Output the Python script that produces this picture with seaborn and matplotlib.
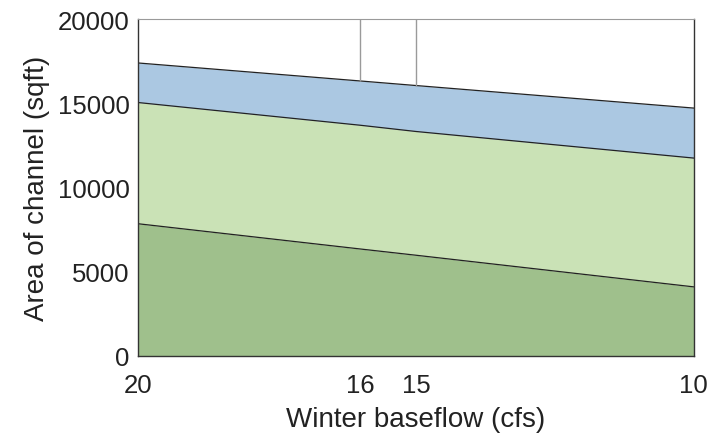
import numpy as np
import pandas as pd
import seaborn as sns
import matplotlib.pyplot as plt

# winter baseflow (cfs) and stacked boundaries of channel area (sqft)
flow = [20, 16, 15, 10]
dark_top = [7850, 6350, 5980, 4100]
light_top = [15050, 13700, 13330, 11750]
blue_top = [17400, 16330, 16060, 14720]
marks = [16, 15]
xticks = [20, 16, 15, 10]
yticks = [0, 5000, 10000, 15000, 20000]

df = pd.DataFrame({'flow': flow, 'dark': dark_top, 'light': light_top, 'blue': blue_top})

sns.set_style("white")
plt.rcParams['font.family'] = ['Liberation Sans', 'DejaVu Sans']

fig = plt.figure(figsize=(7.08, 4.39), dpi=100)
ax = fig.add_axes([0.195, 0.187, 0.785, 0.767])

ax.fill_between(df['flow'], 0, df['dark'], color='#9fc08c', lw=0)
ax.fill_between(df['flow'], df['dark'], df['light'], color='#cae2b6', lw=0)
ax.fill_between(df['flow'], df['light'], df['blue'], color='#abc8e2', lw=0)

for col in ['dark', 'light', 'blue']:
    sns.lineplot(data=df, x='flow', y=col, ax=ax, color='#222222', lw=0.9)

# vertical markers from the top curve up to the frame
ymin = [df.loc[df['flow'] == m, 'blue'].values[0] for m in marks]
ax.vlines(marks, ymin, 20000, color='#9a9a9a', lw=1.0)

ax.set_xlim(20, 10)
ax.set_ylim(0, 20000)
ax.set_xticks(xticks)
ax.set_xticklabels([str(t) for t in xticks])
ax.set_yticks(yticks)
ax.tick_params(axis='both', labelsize=18.5, length=0, colors='#222222')
ax.tick_params(axis='x', pad=12)
ax.tick_params(axis='y', pad=6)
ax.set_xlabel('Winter baseflow (cfs)', fontsize=20, color='#222222', labelpad=7)
ax.set_ylabel('Area of channel (sqft)', fontsize=20, color='#222222', labelpad=6)

for s in ['left', 'bottom', 'right']:
    ax.spines[s].set_color('#333333')
    ax.spines[s].set_linewidth(1.0)
ax.spines['top'].set_color('#9a9a9a')

plt.savefig("out.png", dpi=100)
